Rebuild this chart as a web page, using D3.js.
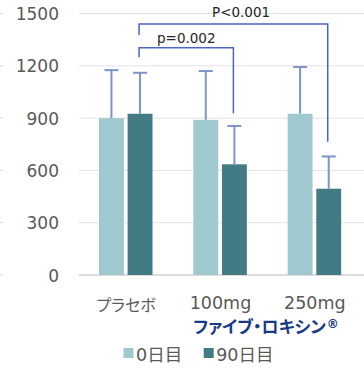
<!DOCTYPE html>
<html>
<head>
<meta charset="utf-8">
<script src="https://cdn.jsdelivr.net/npm/d3@7"></script>
<style>
  html, body { margin: 0; padding: 0; background: #fff; }
  svg { display: block; }
  text { font-family: "DejaVu Sans", "Noto Sans CJK JP", sans-serif; }
  .jp { font-family: "Noto Sans CJK JP", sans-serif; font-feature-settings: "palt"; }
</style>
</head>
<body>
<svg id="chart" width="364" height="375"></svg>
<script>
// Groups and series
const groups = ["プラセボ", "100mg", "250mg"];
const seriesNames = ["0日目", "90日目"];
const day0 = [900, 890, 925];
const day90 = [925, 635, 495];
// Upper end of each error bar (mean + SD)
const day0Err = [1175, 1170, 1193];
const day90Err = [1160, 855, 680];
const yTicks = [0, 300, 600, 900, 1200, 1500];
const brandLabel = "ファイブ・ロキシン";
// Significance brackets: from group/series to group/series, levels in data units
const brackets = [
  { label: "p=0.002", from: [0, 1], to: [1, 1], top: 1304, leftEnd: 1249, rightEnd: 928 },
  { label: "P<0.001", from: [0, 1], to: [2, 1], top: 1440, leftEnd: 1377, rightEnd: 765 }
];

const colors = ["#9fc8cf", "#437b84"];
const svg = d3.select("#chart");
const plot = { left: 79, right: 362, top: 13.5, bottom: 275 };

const x = d3.scaleBand().domain(groups).range([plot.left, plot.right]).paddingInner(0).paddingOuter(0);
const xs = d3.scaleBand().domain(seriesNames).range([20, 73.5]).paddingInner(0.13);
const y = d3.scaleLinear().domain([0, 1500]).range([plot.bottom, plot.top]);

// Gridlines
svg.append("g").selectAll("line").data(yTicks).join("line")
  .attr("x1", plot.left).attr("x2", 364)
  .attr("y1", d => y(d)).attr("y2", d => y(d))
  .attr("stroke", d => d === 0 ? "#d0d0d0" : "#e3e3e3")
  .attr("stroke-width", d => d === 0 ? 1.5 : 1);
svg.append("g").selectAll("line").data(yTicks).join("line")
  .attr("x1", 0).attr("x2", 3)
  .attr("y1", d => y(d)).attr("y2", d => y(d))
  .attr("stroke", "#d8d8d8");

// Y axis labels
const yAxis = d3.axisLeft(y).tickValues(yTicks).tickFormat(d3.format("d")).tickSize(0).tickPadding(0);
const ya = svg.append("g").attr("transform", "translate(59,0)").call(yAxis);
ya.select(".domain").remove();
ya.selectAll("text").attr("fill", "#595959").attr("font-size", 17)
  .attr("font-family", "'DejaVu Sans', sans-serif").attr("dy", "0.36em");

// Bars
const data = groups.map((g, i) => ({ g, vals: [day0[i], day90[i]], errs: [day0Err[i], day90Err[i]] }));
const gg = svg.append("g").selectAll("g").data(data).join("g")
  .attr("transform", d => `translate(${x(d.g)},0)`);
gg.selectAll("rect").data(d => d.vals.map((v, k) => ({ v, k }))).join("rect")
  .attr("x", d => xs(seriesNames[d.k]))
  .attr("width", xs.bandwidth())
  .attr("y", d => y(d.v))
  .attr("height", d => y(0) - y(d.v))
  .attr("fill", d => colors[d.k]);

// Error bars (upper only)
const errs = gg.selectAll("g.err").data(d => d.vals.map((v, k) => ({ v, e: d.errs[k], k }))).join("g").attr("class", "err");
const cx = d => xs(seriesNames[d.k]) + xs.bandwidth() / 2;
errs.append("line")
  .attr("x1", cx).attr("x2", cx)
  .attr("y1", d => y(d.v)).attr("y2", d => y(d.e))
  .attr("stroke", "#7f93cc").attr("stroke-width", 2);
errs.append("line")
  .attr("x1", d => cx(d) - 7).attr("x2", d => cx(d) + 7)
  .attr("y1", d => y(d.e)).attr("y2", d => y(d.e))
  .attr("stroke", "#7f93cc").attr("stroke-width", 2);

// Brackets
const bx = ([gi, si]) => x(groups[gi]) + xs(seriesNames[si]) + xs.bandwidth() / 2 - 1;
brackets.forEach(b => {
  const x1 = bx(b.from), x2 = bx(b.to);
  svg.append("path")
    .attr("d", `M${x1},${y(b.leftEnd)}V${y(b.top)}H${x2}V${y(b.rightEnd)}`)
    .attr("fill", "none").attr("stroke", "#4a66bd").attr("stroke-width", 1.5);
});
svg.append("text").attr("x", 157).attr("y", 43).attr("font-size", 13.5).attr("fill", "#262626").text(brackets[0].label);
svg.append("text").attr("x", 212).attr("y", 16.5).attr("font-size", 13.5).attr("fill", "#262626").text(brackets[1].label);

// X labels
svg.append("g").selectAll("text").data(groups).join("text")
  .attr("class", (d, i) => i === 0 ? "jp" : null)
  .attr("x", d => x(d) + x.bandwidth() / 2)
  .attr("y", (d, i) => i === 0 ? 311 : 309)
  .attr("text-anchor", "middle")
  .attr("font-size", (d, i) => i === 0 ? 16 : 17.5)
  .attr("fill", "#595959")
  .text(d => d);

const brand = svg.append("text").attr("class", "jp")
  .attr("x", 266).attr("y", 333).attr("text-anchor", "middle")
  .attr("font-weight", "bold").attr("font-size", 17).attr("fill", "#1b3a87");
brand.append("tspan").text(brandLabel);
brand.append("tspan").attr("font-family", "'DejaVu Sans', sans-serif")
  .attr("font-size", 12).attr("dy", -5).attr("dx", 1).text("®");

// Legend
const legendX = [123.5, 203.7];
const lg = svg.append("g").selectAll("g").data(seriesNames).join("g")
  .attr("transform", (d, i) => `translate(${legendX[i]},348)`);
lg.append("rect").attr("width", 10).attr("height", 10).attr("fill", (d, i) => colors[i]);
lg.append("text").attr("x", 12.5).attr("y", 12.5).attr("font-size", 17.5).attr("fill", "#595959").text(d => d);
</script>
</body>
</html>
